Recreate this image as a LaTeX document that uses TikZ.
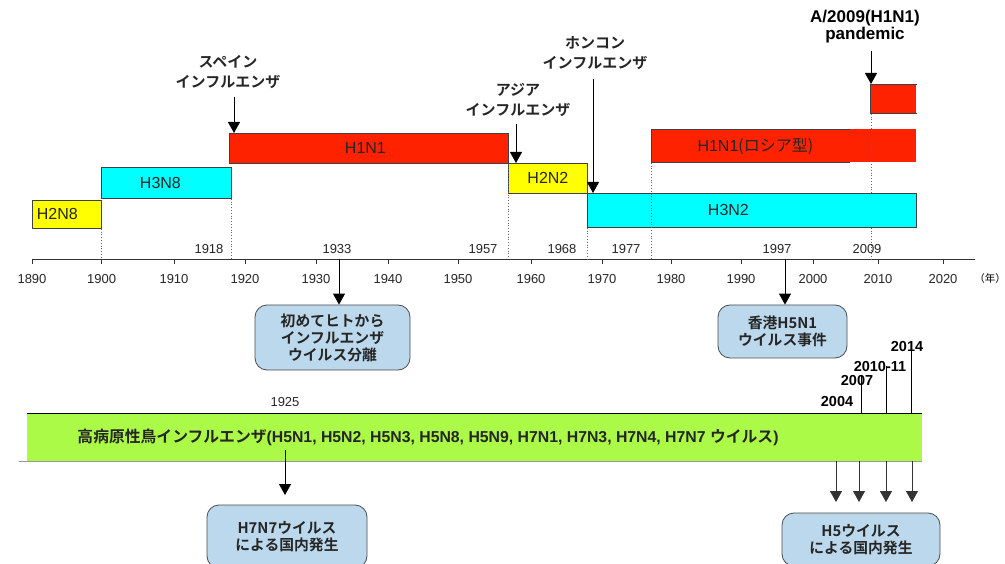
\documentclass[tikz,border=0pt]{standalone}
\usepackage{fontspec}
\setmainfont{Liberation Sans}
\newfontfamily\jp{Noto Sans CJK JP}[BoldFont={Noto Sans CJK JP Bold}]
\usetikzlibrary{arrows.meta}
\definecolor{barred}{RGB}{255,34,0}
\definecolor{barcyan}{RGB}{0,255,255}
\definecolor{baryel}{RGB}{255,255,0}
\definecolor{bargreen}{RGB}{172,250,72}
\definecolor{boxblue}{RGB}{188,216,236}
\tikzset{
  bar/.style={draw=black!75, line width=0.8pt, inner sep=0, anchor=north west},
  barlbl/.style={font=\fontsize{16}{18}\selectfont, inner sep=0, text=black!85},
  arr/.style={line width=0.9pt, -{Triangle[width=12pt,length=11pt]}},
  dots/.style={dotted, line width=0.8pt, black!60},
  evt/.style={font=\jp\bfseries\fontsize{15}{20}\selectfont, align=center, inner sep=0, text=black!85},
  yr/.style={font=\fontsize{13}{14}\selectfont, inner sep=0, text=black!85},
  byr/.style={font=\bfseries\fontsize{14.5}{16}\selectfont, inner sep=0},
  info/.style={draw=black!70, fill=boxblue, rounded corners=12pt, line width=0.8pt, align=center, font=\jp\bfseries\fontsize{14.8}{17}\selectfont, inner sep=0, text=black!85},
  tickmark/.style={line width=0.9pt, black!80}
}
\begin{document}
\begin{tikzpicture}[x=1pt,y=-1pt]
\useasboundingbox (0,0) rectangle (1005,564);
\clip (0,0) rectangle (1005,564);
\fill[white] (0,0) rectangle (1005,564);

% axis
\coordinate (ax0) at (32,259);
\coordinate (ax1) at (975,259);
\draw[tickmark] (ax0) -- (ax1);
\foreach \px/\yy in {32/1890,101.7/1900,174/1910,245/1920,316/1930,388/1940,458/1950,531/1960,602/1970,671/1980,741/1990,813/2000,878/2010,943/2020}{
  \draw[tickmark] (\px,259) -- (\px,264);
  \node[yr] (t\yy) at (\px,279) {\yy};
}
\node[font=\jp\fontsize{10.5}{12}\selectfont, inner sep=0] (nen) at (990,279) {（年）};

% bars
\node[bar, fill=baryel, minimum width=69pt, minimum height=28pt,
  label={[barlbl, xshift=-9.5pt]center:H2N8}] (h2n8) at (32,200) {};
\node[bar, fill=barcyan, minimum width=130pt, minimum height=31pt,
  label={[barlbl, xshift=-6pt]center:H3N8}] (h3n8) at (101,167) {};
\node[bar, fill=barred, minimum width=279pt, minimum height=30pt,
  label={[barlbl, xshift=-3.5pt]center:H1N1}] (h1n1) at (229,133) {};
\node[bar, fill=baryel, minimum width=79pt, minimum height=30pt,
  label={[barlbl]center:H2N2}] (h2n2) at (508,163) {};
\node[bar, fill=barcyan, minimum width=329pt, minimum height=34pt,
  label={[barlbl, xshift=-23.5pt]center:H3N2}] (h3n2) at (587,193) {};
\node[bar, draw=none, fill=barred, minimum width=265pt, minimum height=33pt,
  label={[barlbl, xshift=-28.5pt]center:H1N1{\jp (ロシア型)}}] (russia) at (651,129) {};
\draw[black!75, line width=0.8pt] ([xshift=199pt]russia.north west) -- (russia.north west) -- (russia.south west) -- ([xshift=199pt]russia.south west);
\node[bar, draw=none, fill=barred, minimum width=46pt, minimum height=29pt] (pand) at (870,84) {};
\draw[black!75, line width=0.8pt] (pand.north east) -- (pand.north west) -- (pand.south west) -- (pand.south east);

% dotted guide lines
\draw[dots] (h2n8.south east) -- (h2n8.south east |- ax0);
\draw[dots] (h3n8.south east) -- (h3n8.south east |- ax0);
\draw[dots] (h1n1.south east) -- (h1n1.south east |- ax0);
\draw[dots] (h3n2.south west) -- (h3n2.south west |- ax0);
\draw[dots] (russia.south west) -- (russia.south west |- ax0);
\draw[dots] ([xshift=1pt]pand.south west) -- ([xshift=1pt]pand.south west |- h3n2.north);
\draw[dots] ([xshift=1pt]pand.south west |- h3n2.south) -- ([xshift=1pt]pand.south west |- ax0);

% event year labels
\node[yr] (y1918) at (209,249) {1918};
\node[yr] (y1933) at (337,249) {1933};
\node[yr] (y1957) at (483,249) {1957};
\node[yr] (y1968) at (562,249) {1968};
\node[yr] (y1977) at (626,249) {1977};
\node[yr] (y1997) at (777,249) {1997};
\node[yr] (y2009) at (867,249) {2009};

% pandemic labels + arrows
\node[evt] (spain) at (228,72) {スペイン\\インフルエンザ};
\draw[arr] ([xshift=5pt]h1n1.north west |- spain.south) ++(0,8) -- ([xshift=5pt]h1n1.north west);
\node[evt] (asia) at (518,100) {アジア\\インフルエンザ};
\draw[arr] ([xshift=8pt]h2n2.north west |- asia.south) ++(0,7) -- ([xshift=8pt]h2n2.north west);
\node[evt] (hk) at (595,53) {ホンコン\\インフルエンザ};
\draw[arr] ([xshift=6pt]h3n2.north west |- hk.south) ++(0,9) -- ([xshift=6pt]h3n2.north west);
\node[font=\bfseries\fontsize{17}{14}\selectfont, align=center, inner sep=0] (a2009) at (865,27) {A/2009(H1N1)\\pandemic};
\draw[arr] ([xshift=1pt]pand.north west |- a2009.south) ++(0,7) -- ([xshift=1pt]pand.north west);

% info boxes
\node[info, minimum width=155pt, minimum height=65pt] (first) at (332.5,337.5) {初めてヒトから\\インフルエンザ\\ウイルス分離};
\coordinate (a1933) at (339,259);
\draw[arr] (a1933) -- (a1933 |- first.north);
\node[info, minimum width=129pt, minimum height=53pt] (hk97) at (782.5,331.5) {香港H5N1\\ウイルス事件};
\coordinate (a1997) at (785,259);
\draw[arr] (a1997) -- (a1997 |- hk97.north);

% highly pathogenic avian influenza bar
\node[fill=bargreen, minimum width=895pt, minimum height=48pt, anchor=north west, inner sep=0] (hp) at (27,413) {};
\draw[black, line width=1pt] (hp.north west) -- (hp.north east);
\draw[black!40, line width=1pt] ([xshift=-8pt]hp.south west) -- (hp.south east);
\node[font=\bfseries\fontsize{15.8}{18}\selectfont, inner sep=0, text=black!85] (hptext) at (428,437) {{\jp 高病原性鳥インフルエンザ}(H5N1, H5N2, H5N3, H5N8, H5N9, H7N1, H7N3, H7N4, H7N7 {\jp ウイルス})};
\node[yr] (y1925) at (285,402) {1925};

% recent years above bar
\node[byr] (y2004) at (837,402) {2004};
\node[byr] (y2007) at (857,381) {2007};
\node[byr] (y2010) at (880,367) {2010-11};
\node[byr] (y2014) at (907,347) {2014};
\coordinate (l2007) at (861,376);
\coordinate (l2010) at (886,366);
\coordinate (l2014) at (911,341);
\draw[line width=0.9pt] (l2007) -- (l2007 |- hp.north);
\draw[line width=0.9pt] (l2010) -- (l2010 |- hp.north);
\draw[line width=0.9pt] (l2014) -- (l2014 |- hp.north);

% domestic outbreaks
\node[info, minimum width=160pt, minimum height=63pt] (h7n7) at (287,536.5) {H7N7ウイルス\\による国内発生};
\coordinate (c1925s) at (285,450);
\coordinate (c1925e) at (285,495);
\draw[arr] (c1925s) -- (c1925e);
\node[info, minimum width=158pt, minimum height=53pt] (h5) at (861,539.5) {H5ウイルス\\による国内発生};
\foreach \px/\nm in {836/d1,859/d2,886/d3,912/d4}{
  \coordinate (\nm) at (\px,502);
  \draw[arr, black!80] (\nm |- hp.south) -- (\nm);
}
\end{tikzpicture}
\end{document}
